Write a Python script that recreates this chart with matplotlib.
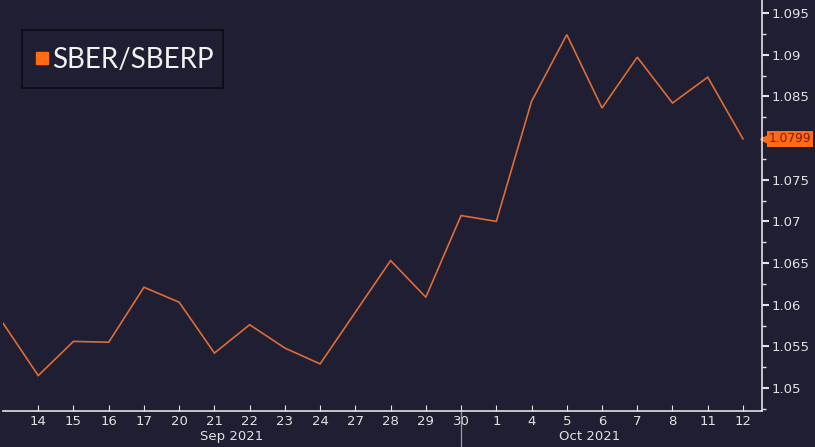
import numpy as np
import matplotlib
matplotlib.use('Agg')
import matplotlib.pyplot as plt
from matplotlib.ticker import FixedLocator, MultipleLocator

# data (trading days Sep 13 - Oct 12 2021)
days = ['13', '14', '15', '16', '17', '20', '21', '22', '23', '24', '27', '28', '29', '30',
        '1', '4', '5', '6', '7', '8', '11', '12']
ratio = [1.0578, 1.0515, 1.0556, 1.0555, 1.0621, 1.0603, 1.0542, 1.0576, 1.0548, 1.0529,
         1.0591, 1.0653, 1.0609, 1.0707, 1.0700, 1.0844, 1.0924, 1.0836, 1.0897, 1.0842,
         1.0873, 1.0799]
months = ['Sep 2021', 'Oct 2021']
last_label = '1.0799'

BG = '#1f1e32'
FG = '#e2e2e2'
LINE = '#dc6d38'
ORANGE = '#ff6a12'

fig = plt.figure(figsize=(8.15, 4.47), dpi=100, facecolor=BG)
ax = fig.add_axes([3 / 815, 36 / 447, 759 / 815, 411 / 447], facecolor=BG)

x = np.arange(len(days))
ax.plot(x, ratio, color=LINE, lw=1.2, solid_joinstyle='miter')

ax.set_xlim(0, 21.54)
ax.set_ylim(1.04725, 1.09656)

# spines
for s in ['top', 'left']:
    ax.spines[s].set_visible(False)
for s in ['right', 'bottom']:
    ax.spines[s].set_color(FG)
    ax.spines[s].set_linewidth(1.2)

# x ticks
ax.xaxis.set_major_locator(FixedLocator(x[1:]))
ax.set_xticklabels(days[1:])
ax.tick_params(axis='x', colors=FG, labelsize=9.5, length=4, direction='in', pad=3)

# y ticks on the right
ax.yaxis.tick_right()
ax.yaxis.set_minor_locator(MultipleLocator(0.0025))
ax.set_yticks(np.arange(1.05, 1.0951, 0.005))
ax.set_yticklabels(['1.05', '1.055', '1.06', '1.065', '1.07', '1.075', '', '1.085', '1.09', '1.095'])
ax.tick_params(axis='y', which='major', colors=FG, labelsize=9.5, length=5, width=1.5, pad=2)
ax.tick_params(axis='y', which='minor', colors=FG, length=3, width=1)

# month labels and separator
ax.text((232 - 3) / 759, -0.062, months[0], transform=ax.transAxes,
        ha='center', va='center', color=FG, fontsize=9.5)
ax.text((590 - 3) / 759, -0.062, months[1], transform=ax.transAxes,
        ha='center', va='center', color=FG, fontsize=9.5)
ax.plot([13, 13], [0, -0.09], transform=ax.get_xaxis_transform(), color='#9a9aa8',
        lw=0.9, clip_on=False)

# last value tag
ax.plot([1.003], [ratio[-1]], marker='<', ms=6, color=ORANGE,
        transform=ax.get_yaxis_transform(), clip_on=False)
ax.text(1.009, ratio[-1], last_label, transform=ax.get_yaxis_transform(), ha='left',
        va='center', color='#7a1a00', fontsize=8.8,
        bbox=dict(boxstyle='square,pad=0.12', fc=ORANGE, ec='none'))

# legend box
leg_ax = fig.add_axes([22 / 815, 1 - 88 / 447, 201 / 815, 58 / 447])
leg_ax.set_facecolor(BG)
leg_ax.set_xticks([])
leg_ax.set_yticks([])
for s in leg_ax.spines.values():
    s.set_color('#0c0c14')
    s.set_linewidth(1.2)
leg_ax.set_xlim(0, 1)
leg_ax.set_ylim(0, 1)
leg_ax.plot([0.10], [0.52], marker='s', ms=8, color=ORANGE)
leg_ax.text(0.15, 0.48, 'SBER/SBERP', color='#f2f2f2', fontsize=20, family='Lato',
            va='center', ha='left')

fig.savefig('out.png', dpi=100, facecolor=BG)
